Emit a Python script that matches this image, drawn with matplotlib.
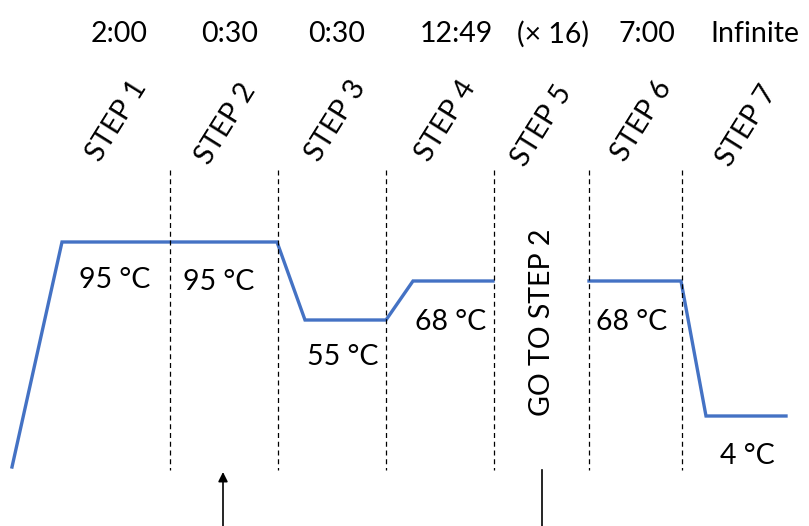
import matplotlib
matplotlib.use("Agg")
import matplotlib.pyplot as plt

# ---- data (schematic units) ----
step_names = ["STEP 1", "STEP 2", "STEP 3", "STEP 4", "STEP 5", "STEP 6", "STEP 7"]
durations = ["2:00", "0:30", "0:30", "12:49", "(× 16)", "7:00", "Infinite"]
duration_x = [119, 230, 337, 456, 553, 647, 755]
step_label_x = [117, 226, 336, 446, 542, 642, 747]
step_label_y = [121, 124, 121, 121, 126, 121, 126]
boundaries = [170, 278, 386, 494, 589, 682]

# temperature profile (two pieces, separated by the GO TO STEP 2 column)
profile1_x = [12, 62, 277, 305, 386, 413, 493]
profile1_y = [467, 242, 242, 320, 320, 281, 281]
profile2_x = [589, 681, 706, 786]
profile2_y = [281, 281, 416, 416]

temp_labels = ["95 °C", "95 °C", "55 °C", "68 °C", "68 °C", "4 °C"]
temp_label_x = [115, 219, 343, 451, 632, 747]
temp_label_y = [280, 282, 357, 322, 322, 456]

FONT = ["Lato", "DejaVu Sans"]
FS = 20.5

fig = plt.figure(figsize=(8.09, 5.26), dpi=100)
ax = fig.add_axes([0, 0, 1, 1])
ax.set_xlim(0, 809)
ax.set_ylim(526, 0)
ax.axis("off")

blue = "#4472C4"
ax.plot(profile1_x, profile1_y, color=blue, lw=2.4, solid_joinstyle="miter")
ax.plot(profile2_x, profile2_y, color=blue, lw=2.4, solid_joinstyle="miter")

for b in boundaries:
    ax.plot([b, b], [170, 470], color="black", lw=0.9, ls=(0, (4, 3)))

for x, d in zip(duration_x, durations):
    ax.text(x, 34, d, ha="center", va="center", fontsize=FS, family=FONT)

for x, y, s in zip(step_label_x, step_label_y, step_names):
    ax.text(x, y, s, ha="center", va="center", rotation=58,
            fontsize=FS, family=FONT, rotation_mode="anchor")

for x, y, t in zip(temp_label_x, temp_label_y, temp_labels):
    ax.text(x, y, t, ha="center", va="center", fontsize=FS, family=FONT)

ax.text(542, 322, "GO TO STEP 2", ha="center", va="center", rotation=90,
        fontsize=FS, family=FONT)

ax.annotate("", xy=(223, 472), xytext=(223, 526),
            arrowprops=dict(arrowstyle="-|>", color="black", lw=1.2,
                            mutation_scale=14, shrinkA=0, shrinkB=0))
ax.plot([542, 542], [470, 526], color="black", lw=1.2)

fig.savefig("out.png", dpi=100)
